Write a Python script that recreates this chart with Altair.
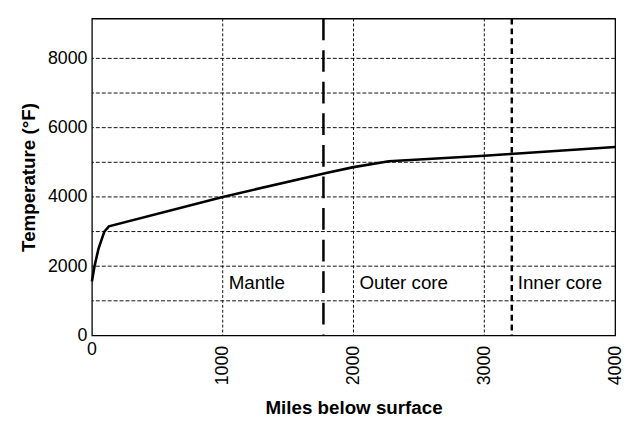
import altair as alt
import pandas as pd

# Temperature profile
miles = [0, 20, 50, 95, 130, 1000, 1800, 2000, 2270, 3000, 3200, 4000]
temps = [1560, 2000, 2500, 3000, 3150, 4000, 4700, 4860, 5030, 5190, 5240, 5440]

# grid / ticks
h_grid = [1000, 2000, 3000, 4000, 5000, 6000, 7000, 8000]
v_grid = [1000, 2000, 3000]
y_ticks = [0, 2000, 4000, 6000, 8000]
x_ticks = [1000, 2000, 3000, 4000]

# boundaries
mantle_boundary = [1770]
inner_boundary = [3210]

# zone labels
zone_names = ["Mantle", "Outer core", "Inner core"]
zone_x = [1000, 2000, 3210]
zone_y = [1500, 1500, 1500]

FONT = "Liberation Sans"

curve_df = pd.DataFrame({"miles": miles, "temp": temps})
hgrid_df = pd.DataFrame({"temp": h_grid})
vgrid_df = pd.DataFrame({"miles": v_grid})
mantle_df = pd.DataFrame({"miles": mantle_boundary})
inner_df = pd.DataFrame({"miles": inner_boundary})
zone_df = pd.DataFrame({"name": zone_names, "miles": zone_x, "temp": zone_y})

x_scale = alt.Scale(domain=[0, 4000], nice=False, zero=False)
y_scale = alt.Scale(domain=[0, 9150], nice=False, zero=False)

x_axis = alt.Axis(values=x_ticks, format="d", labelAngle=270, labelPadding=10, labelFontSize=18,
                  labelFont=FONT, labelColor="black",
                  title="Miles below surface", titleFont=FONT, titleFontSize=19,
                  titleFontWeight="bold", titleColor="black", titlePadding=14,
                  grid=False, ticks=False, domain=False)
y_axis = alt.Axis(values=y_ticks, format="d", labelPadding=5, labelFontSize=18, labelFont=FONT,
                  labelColor="black",
                  title="Temperature (°F)", titleFont=FONT, titleFontSize=19,
                  titleFontWeight="bold", titleColor="black", titlePadding=9,
                  grid=False, ticks=False, domain=False)

X = lambda f: alt.X(f, type="quantitative", scale=x_scale, axis=x_axis)
Y = lambda f: alt.Y(f, type="quantitative", scale=y_scale, axis=y_axis)

hgrid = alt.Chart(hgrid_df).mark_rule(color="#111", strokeWidth=1, strokeDash=[4, 2]).encode(
    y=Y("temp"))
vgrid = alt.Chart(vgrid_df).mark_rule(color="#111", strokeWidth=1, strokeDash=[3, 2]).encode(
    x=X("miles"))
mantle = alt.Chart(mantle_df).mark_rule(color="black", strokeWidth=2.5, strokeDash=[22, 10]).encode(
    x=X("miles"))
inner = alt.Chart(inner_df).mark_rule(color="black", strokeWidth=2.5, strokeDash=[6, 4]).encode(
    x=X("miles"))
curve = alt.Chart(curve_df).mark_line(color="black", strokeWidth=2.6).encode(
    x=X("miles"), y=Y("temp"))
zones = alt.Chart(zone_df).mark_text(align="left", baseline="middle", dx=6, fontSize=19,
                                     font=FONT, color="black").encode(
    x=X("miles"), y=Y("temp"), text="name:N")
zero_label = alt.Chart(pd.DataFrame({"t": ["0"]})).mark_text(
    align="center", baseline="middle", fontSize=18, font=FONT, color="black").encode(
    x=alt.X(datum=0, type="quantitative", scale=x_scale, axis=x_axis),
    y=alt.Y(datum=-430, type="quantitative", scale=y_scale, axis=y_axis),
    text="t:N")

chart = alt.layer(hgrid, vgrid, mantle, inner, curve, zones, zero_label).properties(
    width=530, height=321,
    autosize=alt.AutoSizeParams(type="none"),
    padding={"left": 85, "top": 8, "right": 10, "bottom": 87},
    background="white",
).configure_view(stroke="black", strokeWidth=1.3)

chart.save("out.html", embed_options={"renderer": "svg", "actions": False})
